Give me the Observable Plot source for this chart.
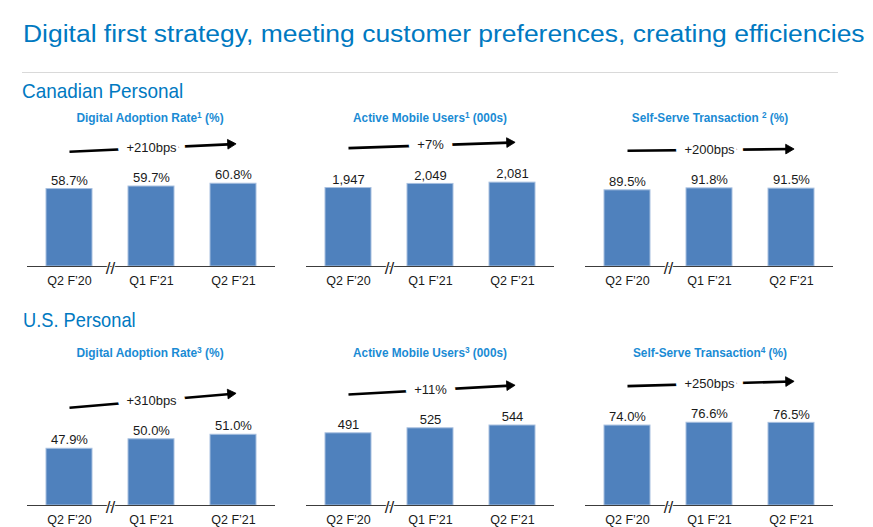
<!DOCTYPE html>
<html><head><meta charset="utf-8">
<script src="https://cdn.jsdelivr.net/npm/d3@7"></script>
<script src="https://cdn.jsdelivr.net/npm/@observablehq/plot@0.6"></script>
<style>
html,body{margin:0;padding:0;background:#fff;}
#page{position:relative;width:873px;height:527px;overflow:hidden;font-family:"Liberation Sans",Arial,sans-serif;}
.t{position:absolute;white-space:nowrap;line-height:1;}
.h1{font-size:23px;color:#0079c1;}
.h2{font-size:21px;color:#0079c1;}
.pt{font-size:13px;font-weight:bold;color:#1a8bd4;}
.pt sup{font-size:0.7em;vertical-align:0.4em;line-height:0;}
.sep{position:absolute;left:22px;top:72px;width:816px;height:1px;background:#d9d9d9;}
.panel{position:absolute;}
</style></head>
<body><div id="page"></div>
<script>
// ---- data ----
const categories = ["Q2 F’20", "Q1 F’21", "Q2 F’21"];
const caDigitalAdoption = [58.7, 59.7, 60.8];
const caMobileUsers = [1947, 2049, 2081];
const caSelfServe = [89.5, 91.8, 91.5];
const usDigitalAdoption = [47.9, 50.0, 51.0];
const usMobileUsers = [491, 525, 544];
const usSelfServe = [74.0, 76.6, 76.5];
const changeLabels = ["+210bps", "+7%", "+200bps", "+310bps", "+11%", "+250bps"];
const panelTitles = [
  "Digital Adoption Rate<sup>1</sup> (%)",
  "Active Mobile Users<sup>1</sup> (000s)",
  "Self-Serve Transaction <sup>2</sup> (%)",
  "Digital Adoption Rate<sup>3</sup> (%)",
  "Active Mobile Users<sup>3</sup> (000s)",
  "Self-Serve Transaction<sup>4</sup> (%)"
];
const mainTitle = "Digital first strategy, meeting customer preferences, creating efficiencies";
const sectionTitles = ["Canadian Personal", "U.S. Personal"];
// y-axis domains per panel (value units)
const yDomains = [[28, 81.9], [0, 3375], [0, 159.8], [35.35, 65.44], [0, 925], [0, 125.9]];
// arrow annotation heights (value units) at first and last category
const arrowStart = [73.5, 2938, 136.0, 56.97, 755, 110.5];
const arrowEnd = [76.5, 3077, 138.0, 60.06, 816, 114.8];

const panelValues = [caDigitalAdoption, caMobileUsers, caSelfServe, usDigitalAdoption, usMobileUsers, usSelfServe];
const pct = d => d.toFixed(1) + "%";
const num = d3.format(",");
const panelFormats = [pct, num, pct, pct, num, pct];

// ---- layout ----
const page = document.getElementById("page");
const FONT = '"Liberation Sans",Arial,sans-serif';
const fits = [];
function addText(html, cls, x, top, target, centered) {
  const el = document.createElement("div");
  el.className = "t " + cls;
  el.innerHTML = html;
  el.style.left = x + "px";
  el.style.top = top + "px";
  page.appendChild(el);
  fits.push({el, target, centered});
  return el;
}
function fitAll() {
  for (const {el, target, centered} of fits) {
    el.style.transform = "none";
    const w = el.offsetWidth;
    const k = target / w;
    if (centered) { el.style.transformOrigin = "50% 50%"; el.style.transform = `translateX(-50%) scaleX(${k})`; }
    else { el.style.transformOrigin = "0 50%"; el.style.transform = `scaleX(${k})`; }
  }
}

addText(mainTitle, "h1", 22.5, 23.2, 842, false);
const sep = document.createElement("div"); sep.className = "sep"; page.appendChild(sep);
addText(sectionTitles[0], "h2", 21.7, 79.5, 161.6, false);
addText(sectionTitles[1], "h2", 22.7, 309, 113, false);

const W = 248, H = 166, MB = 30;
const panelLeft = [26.7, 305.7, 585, 26.7, 305.7, 585];
const rowTop = [129.7, 369];
const titleCenters = [149.5, 429.7, 710, 149.5, 429.7, 709.7];
const titleTops = [110.5, 346.2];
const titleWidths = [147.6, 154, 156.6, 147.6, 154, 154];
const pi = 0.44, po = 0.23;
const step = W / (categories.length - pi + 2 * po);

for (let p = 0; p < 6; p++) {
  const row = p < 3 ? 0 : 1;
  addText(panelTitles[p], "pt", titleCenters[p], titleTops[row], titleWidths[p], true);
  const values = panelValues[p];
  const fmt = panelFormats[p];
  const dom = yDomains[p];
  const data = categories.map((c, i) => ({cat: c, v: values[i], label: fmt(values[i])}));
  // tilt of the trend arrow in screen degrees, for orienting its head
  const pxPerUnit = (H - MB) / (dom[1] - dom[0]);
  const tilt = Math.atan2((arrowEnd[p] - arrowStart[p]) * pxPerUnit, 2 * step) * 180 / Math.PI;
  const arrowData = [{from: categories[0], to: categories[2], mid: categories[1], y1: arrowStart[p], y2: arrowEnd[p], label: changeLabels[p], rot: 90 - tilt}];
  const breakData = [{cat: categories[0], y: dom[0], mark: "//"}];
  const chart = Plot.plot({
    width: W, height: H,
    marginTop: 0, marginBottom: MB, marginLeft: 0, marginRight: 0,
    style: {fontFamily: FONT, fontSize: "13px", color: "#1a1a1a", background: "transparent", overflow: "visible"},
    x: {domain: categories, paddingInner: pi, paddingOuter: po, axis: null},
    y: {domain: dom, axis: null},
    marks: [
      Plot.barY(data, {x: "cat", y1: dom[0], y2: "v", fill: "#4f81bd", stroke: "#a7bfdf", strokeWidth: 1}),
      Plot.ruleY([dom[0]], {stroke: "#3c3c3c", strokeWidth: 1}),
      Plot.text(breakData, {x: "cat", y: "y", text: "mark", dx: 41, dy: 2.5, fontSize: 17, fill: "#222", stroke: "#fff", strokeWidth: 1.5, lineAnchor: "middle"}),
      Plot.text(data, {x: "cat", y: "v", text: "label", dy: -8.5, lineAnchor: "middle", fill: "#1a1a1a", fontSize: 13}),
      Plot.text(data, {x: "cat", text: "cat", frameAnchor: "bottom", dy: 14.5, lineAnchor: "middle", fill: "#1a1a1a", fontSize: 12.5}),
      Plot.link(arrowData, {x1: "from", x2: "to", y1: "y1", y2: "y2", stroke: "#000", strokeWidth: 2.6}),
      Plot.dot(arrowData, {x: "to", y: "y2", symbol: "triangle", r: 3.6, fill: "#000", stroke: "#000", strokeWidth: 0.8, rotate: "rot", dx: -3}),
      Plot.text(arrowData, {x: "mid", y: d => (d.y1 + d.y2) / 2, text: "label", fill: "#1a1a1a", stroke: "#fff", strokeWidth: 18, strokeLinejoin: "round", fontSize: 13, lineAnchor: "middle"})
    ]
  });
  chart.classList.add("panel");
  chart.style.left = panelLeft[p] + "px";
  chart.style.top = rowTop[row] + "px";
  page.appendChild(chart);
}
fitAll();
if (document.fonts && document.fonts.ready) document.fonts.ready.then(fitAll);
</script>
</body></html>
